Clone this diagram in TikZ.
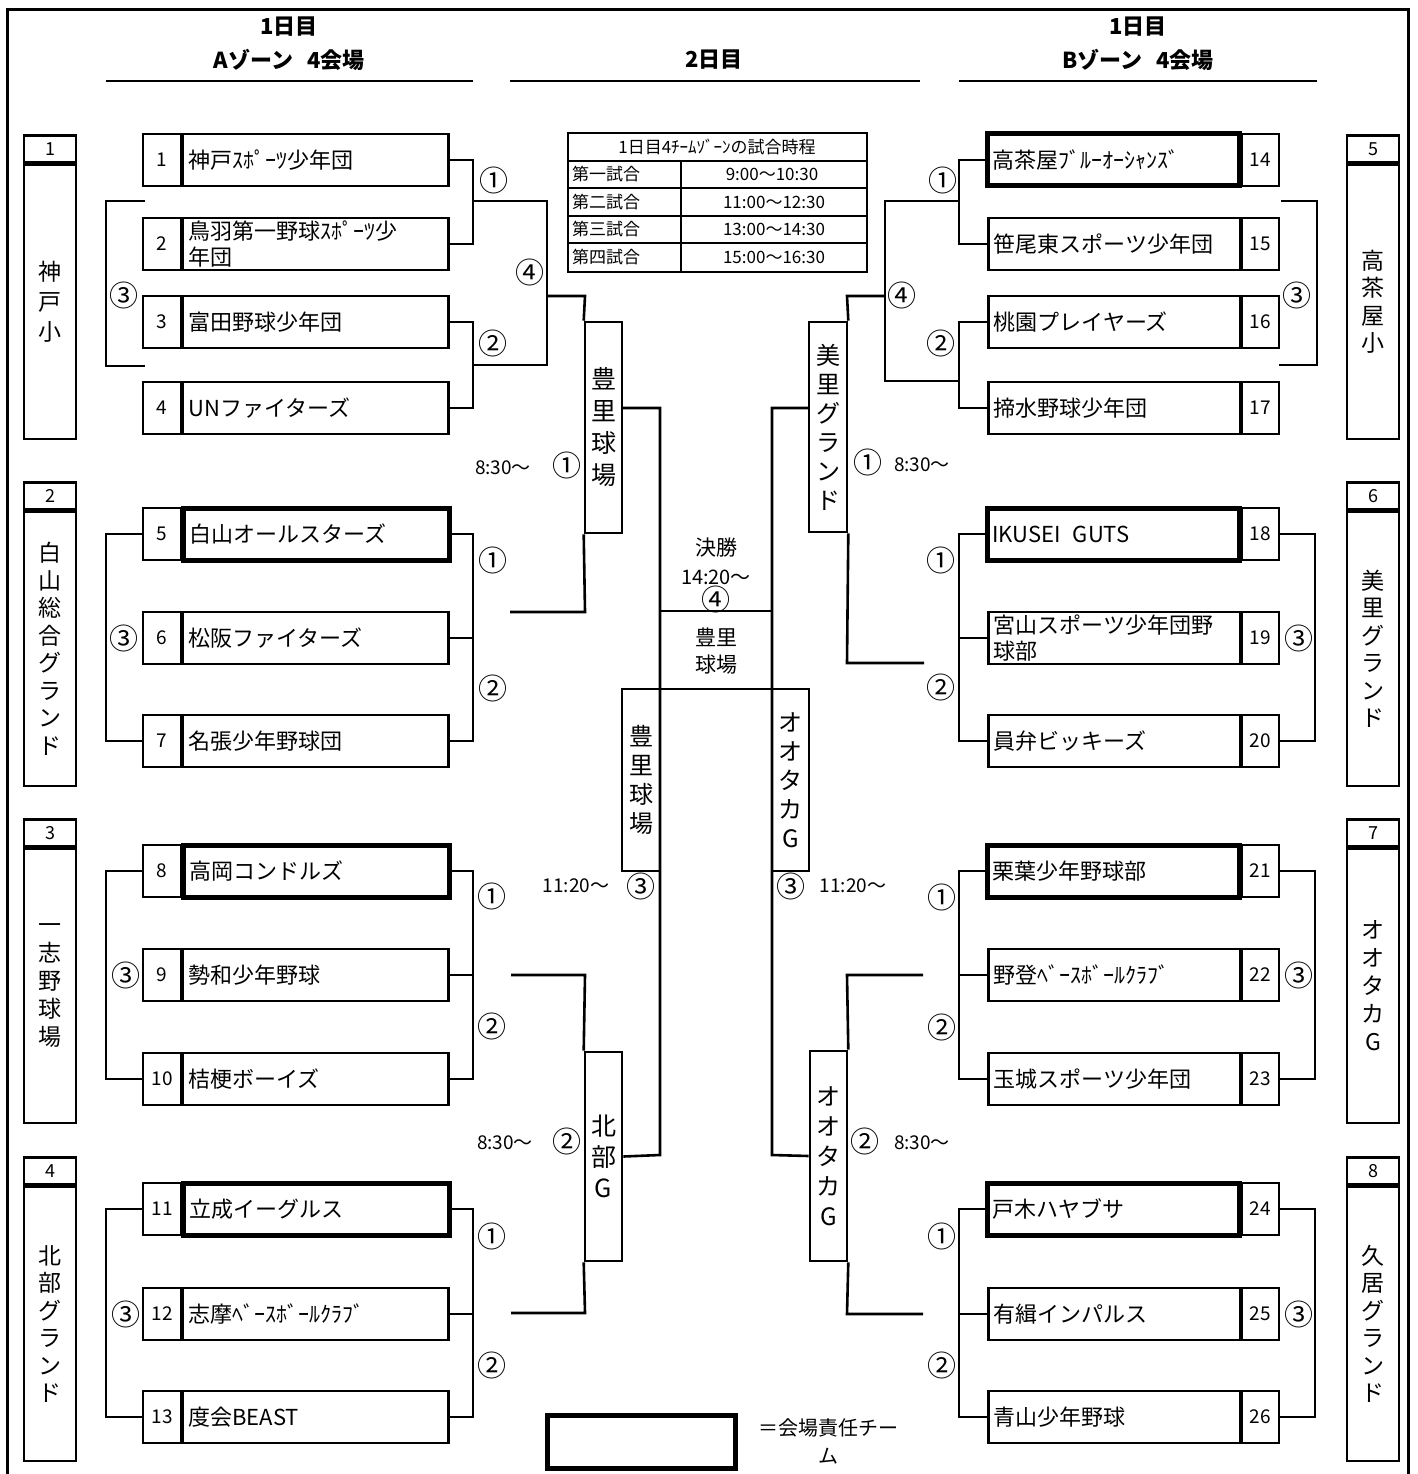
\documentclass[tikz,border=0pt]{standalone}
\usepackage{fontspec}
\setmainfont{Noto Sans CJK JP}
\newcommand\fs[2]{\fontsize{#1}{#2}\selectfont}
% left team: id, y, number, name, name style
\newcommand\LTeam[5]{%
  \node[box, minimum width=38pt, minimum height=52pt, font=\fs{19}{20}] (n#1) at (162,#2) {#3};
  \node[#5, minimum width=266pt, minimum height=52pt, text width=254pt, align=left, anchor=west, font=\fs{22}{26}] (t#1) at (181,#2) {#4};}
\newcommand\RTeam[5]{%
  \node[box, minimum width=37pt, minimum height=52pt, font=\fs{19}{20}] (n#1) at (1260.5,#2) {#3};
  \node[#5, minimum width=252pt, minimum height=52pt, text width=242pt, align=left, anchor=east, font=\fs{22}{26}] (t#1) at (1242,#2) {#4};}
% venue: id, x, top, number, text, baselineskip
\newcommand\Venue[6]{%
  \node[box, minimum width=52pt, minimum height=27pt, anchor=north, font=\fs{18}{19}] (vn#1) at (#2,#3) {#4};
  \node[box, minimum width=52pt, minimum height=274pt, anchor=north] (vb#1) at (vn#1.south) {};
  \node[align=center, font=\fs{23}{#6}] (vt#1) at (vb#1.center) {#5};}
\begin{document}
\begin{tikzpicture}[x=1pt,y=-1pt,
  ln/.style={line width=2.6pt},
  box/.style={draw, line width=2.6pt, inner sep=0pt},
  thk/.style={draw, line width=5pt, inner sep=0pt},
  vbox/.style={draw, line width=2.6pt, inner sep=0pt, align=center},
  circ/.style={font=\fs{29}{30}, inner sep=0pt},
  tm/.style={font=\fs{19}{20}, inner sep=0pt},
  hd/.style={font=\fs{22}{24}\bfseries, inner sep=0pt},
  tb/.style={font=\fs{17}{18}, inner sep=0pt}]
\useasboundingbox (0,0) rectangle (1417,1474);
% outer frame
\draw[line width=3pt] (7,1474) -- (7,10) -- (1408,10) -- (1408,1474);
% headers
\node[hd] (h1) at (289,27) {1日目};
\node[hd] (h2) at (289,60) {Aゾーン\hspace{14pt}4会場};
\node[hd] (h3) at (714,60) {2日目};
\node[hd] (h4) at (1138,27) {1日目};
\node[hd] (h5) at (1138,60) {Bゾーン\hspace{14pt}4会場};
\draw[ln] (106,81) -- (473,81);
\draw[ln] (510,81) -- (920,81);
\draw[ln] (959,81) -- (1317,81);
% time table
\draw[line width=1.6pt] (568,133) rectangle (867,272);
\foreach \yy in {161,188,216,243} \draw[line width=1.6pt] (568,\yy) -- (867,\yy);
\draw[line width=1.6pt] (681,161) -- (681,272);
\node[tb] (tbh) at (717,147) {1日目4ﾁｰﾑｿﾞｰﾝの試合時程};
\node[tb, anchor=west] (tb1) at (572,174.5) {第一試合};
\node[tb, anchor=west] (tb2) at (572,202) {第二試合};
\node[tb, anchor=west] (tb3) at (572,229.5) {第三試合};
\node[tb, anchor=west] (tb4) at (572,257.5) {第四試合};
\node[tb] (tt1) at (772,174.5) {9:00～10:30};
\node[tb] (tt2) at (774,202) {11:00～12:30};
\node[tb] (tt3) at (774,229.5) {13:00～14:30};
\node[tb] (tt4) at (774,257.5) {15:00～16:30};
% venue boxes
\Venue{1}{50}{134}{1}{神\\戸\\小}{30}
\Venue{2}{50}{481}{2}{白\\山\\総\\合\\グ\\ラ\\ン\\ド}{27.5}
\Venue{3}{50}{818}{3}{一\\志\\野\\球\\場}{28}
\Venue{4}{50}{1156}{4}{北\\部\\グ\\ラ\\ン\\ド}{27.5}
\Venue{5}{1373}{134}{5}{高\\茶\\屋\\小}{27.5}
\Venue{6}{1373}{481}{6}{美\\里\\グ\\ラ\\ン\\ド}{27.5}
\Venue{7}{1373}{818}{7}{オ\\オ\\タ\\カ\\G}{28}
\Venue{8}{1373}{1156}{8}{久\\居\\グ\\ラ\\ン\\ド}{27.5}
% left teams
\LTeam{1}{160}{1}{神戸ｽﾎﾟｰﾂ少年団}{box}
\LTeam{2}{244}{2}{鳥羽第一野球ｽﾎﾟｰﾂ少\\年団}{box}
\LTeam{3}{322}{3}{富田野球少年団}{box}
\LTeam{4}{408}{4}{UNファイターズ}{box}
\LTeam{5}{534}{5}{白山オールスターズ}{thk}
\LTeam{6}{638}{6}{松阪ファイターズ}{box}
\LTeam{7}{741}{7}{名張少年野球団}{box}
\LTeam{8}{871}{8}{高岡コンドルズ}{thk}
\LTeam{9}{975}{9}{勢和少年野球}{box}
\LTeam{10}{1079}{10}{桔梗ボーイズ}{box}
\LTeam{11}{1209}{11}{立成イーグルス}{thk}
\LTeam{12}{1314}{12}{志摩ﾍﾞｰｽﾎﾞｰﾙｸﾗﾌﾞ}{box}
\LTeam{13}{1417}{13}{度会BEAST}{box}
% right teams
\RTeam{14}{160}{14}{高茶屋ﾌﾞﾙｰｵｰｼｬﾝｽﾞ}{thk}
\RTeam{15}{244}{15}{笹尾東スポーツ少年団}{box}
\RTeam{16}{322}{16}{桃園プレイヤーズ}{box}
\RTeam{17}{408}{17}{揥水野球少年団}{box}
\RTeam{18}{534}{18}{IKUSEI\hspace{12pt}GUTS}{thk}
\RTeam{19}{638}{19}{宮山スポーツ少年団野\\球部}{box}
\RTeam{20}{741}{20}{員弁ビッキーズ}{box}
\RTeam{21}{871}{21}{栗葉少年野球部}{thk}
\RTeam{22}{975}{22}{野登ﾍﾞｰｽﾎﾞｰﾙｸﾗﾌﾞ}{box}
\RTeam{23}{1079}{23}{玉城スポーツ少年団}{box}
\RTeam{24}{1209}{24}{戸木ハヤブサ}{thk}
\RTeam{25}{1314}{25}{有緝インパルス}{box}
\RTeam{26}{1417}{26}{青山少年野球}{box}
% day-2 venue boxes
\node[vbox, minimum width=37pt, minimum height=211pt, font=\fs{25}{32}] (vA) at (603.5,427.5) {豊\\里\\球\\場};
\node[vbox, minimum width=38pt, minimum height=210pt, font=\fs{24}{29}] (vB) at (828,427) {美\\里\\グ\\ラ\\ン\\ド};
\node[vbox, minimum width=38pt, minimum height=182pt, font=\fs{24}{29}] (vC) at (641,780) {豊\\里\\球\\場};
\node[vbox, minimum width=37pt, minimum height=182pt, font=\fs{24}{29}] (vD) at (790.5,780) {オ\\オ\\タ\\カ\\G};
\node[vbox, minimum width=37pt, minimum height=209pt, font=\fs{25}{31}] (vE) at (603.5,1156.5) {北\\部\\G};
\node[vbox, minimum width=37pt, minimum height=210pt, font=\fs{24}{30}] (vF) at (828.5,1156) {オ\\オ\\タ\\カ\\G};
% left brackets, group 1
\draw[ln] (t1.east) -- (473,160) -- (473,244) -- (t2.east);
\draw[ln] (t3.east) -- (473,322) -- (473,408) -- (t4.east);
\draw[ln] (473,201) -- (547,201) -- (547,365) -- (473,365);
\draw[ln] (145,201) -- (106,201) -- (106,366) -- (145,366);
\draw[ln] (547,296) -- (585,296) -- (vA.north west);
\draw[ln] (vA.south west) -- (585,612) -- (510,612);
\draw[ln] (622,408) -- (660,408) -- (660,1155) -- (vE.east);
% group 2
\draw[ln] (t5.east) -- (473,534) -- (473,741) -- (t7.east);
\draw[ln] (t6.east) -- (473,638);
\draw[ln] (n5.west) -- (106,534) -- (106,741) -- (n7.west);
% group 3
\draw[ln] (t8.east) -- (473,871) -- (473,1079) -- (t10.east);
\draw[ln] (t9.east) -- (473,975);
\draw[ln] (n8.west) -- (106,871) -- (106,1079) -- (n10.west);
\draw[ln] (511,975) -- (585,975) -- (vE.north west);
\draw[ln] (vE.south west) -- (585,1313) -- (511,1313);
% group 4
\draw[ln] (t11.east) -- (473,1209) -- (473,1417) -- (t13.east);
\draw[ln] (t12.east) -- (473,1314);
\draw[ln] (n11.west) -- (106,1209) -- (106,1417) -- (n13.west);
% right group 1
\draw[ln] (t14.west) -- (959,160) -- (959,244) -- (t15.west);
\draw[ln] (t16.west) -- (959,322) -- (959,408) -- (t17.west);
\draw[ln] (959,201) -- (885,201) -- (885,381) -- (959,381);
\draw[ln] (1281,201) -- (1317,201) -- (1317,365) -- (1279,365);
\draw[ln] (885,296) -- (847,296) -- (vB.north east);
\draw[ln] (vB.south east) -- (847,663) -- (924,663);
\draw[ln] (809,408) -- (772,408) -- (772,1155) -- (vF.west);
% right group 2
\draw[ln] (t18.west) -- (959,534) -- (959,741) -- (t20.west);
\draw[ln] (t19.west) -- (959,638);
\draw[ln] (n18.east) -- (1315,534) -- (1315,741) -- (n20.east);
% right group 3
\draw[ln] (t21.west) -- (959,871) -- (959,1079) -- (t23.west);
\draw[ln] (t22.west) -- (959,975);
\draw[ln] (n21.east) -- (1315,871) -- (1315,1079) -- (n23.east);
\draw[ln] (923,975) -- (847,975) -- (vF.north east);
\draw[ln] (vF.south east) -- (847,1314) -- (923,1314);
% right group 4
\draw[ln] (t24.west) -- (959,1209) -- (959,1417) -- (t26.west);
\draw[ln] (t25.west) -- (959,1314);
\draw[ln] (n24.east) -- (1315,1209) -- (1315,1417) -- (n26.east);
% final
\draw[ln] (660,611) -- (772,611);
\draw[ln] (622,689) -- (809,689);
\node[font=\fs{21}{22}] (fin1) at (716,548) {決勝};
\node[font=\fs{20}{21}] (fin2) at (716,577) {14:20～};
\node[circ] (fin3) at (716,599) {④};
\node[font=\fs{21}{22}] (fin4) at (716,637) {豊里};
\node[font=\fs{21}{22}] (fin5) at (716,665) {球場};
% circled labels left
\node[circ] at (494,180) {①};
\node[circ] at (493,343) {②};
\node[circ] at (530,272) {④};
\node[circ] at (124,295) {③};
\node[circ] at (493,560) {①};
\node[circ] at (493,688) {②};
\node[circ] at (124,638) {③};
\node[circ] at (492,896) {①};
\node[circ] at (492,1026) {②};
\node[circ] at (126,975) {③};
\node[circ] at (492,1236) {①};
\node[circ] at (492,1365) {②};
\node[circ] at (126,1314) {③};
\node[tm] at (503,468) {8:30～};
\node[circ] at (567,465) {①};
\node[tm] at (576,886) {11:20～};
\node[circ] at (641,886) {③};
\node[tm] at (505,1143) {8:30～};
\node[circ] at (567,1141) {②};
% circled labels right
\node[circ] at (943,180) {①};
\node[circ] at (941,343) {②};
\node[circ] at (902,295) {④};
\node[circ] at (1297,295) {③};
\node[circ] at (941,560) {①};
\node[circ] at (941,687) {②};
\node[circ] at (1299,638) {③};
\node[circ] at (942,897) {①};
\node[circ] at (942,1027) {②};
\node[circ] at (1299,975) {③};
\node[circ] at (942,1236) {①};
\node[circ] at (942,1365) {②};
\node[circ] at (1299,1314) {③};
\node[circ] at (868,462) {①};
\node[tm] at (922,465) {8:30～};
\node[circ] at (791,886) {③};
\node[tm] at (853,886) {11:20～};
\node[circ] at (865,1141) {②};
\node[tm] at (922,1143) {8:30～};
% legend
\node[thk, minimum width=188pt, minimum height=53pt] (leg) at (641,1441.5) {};
\node[font=\fs{20}{28}, align=center] (legt) at (828,1441) {＝会場責任チー\\ム};
\end{tikzpicture}
\end{document}
